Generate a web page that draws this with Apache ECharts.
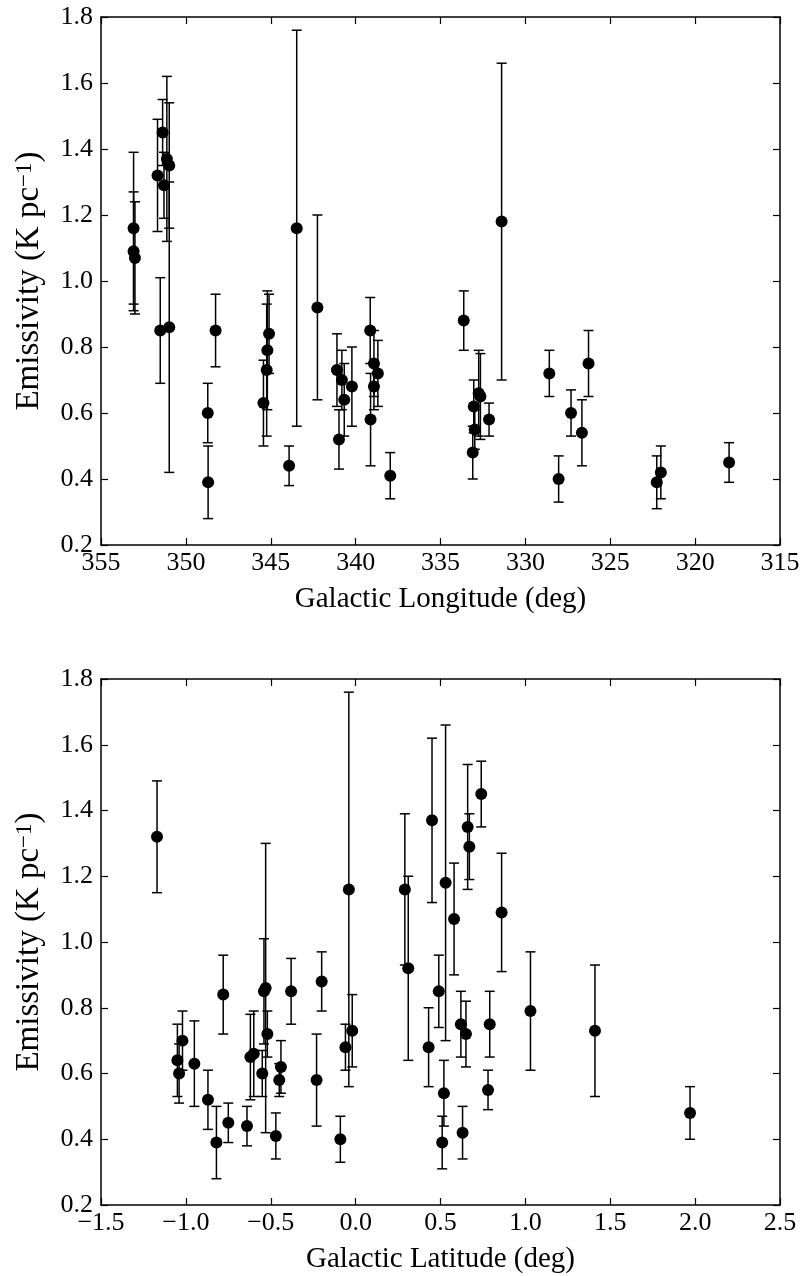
<!DOCTYPE html>
<html><head><meta charset="utf-8">
<script src="https://cdn.jsdelivr.net/npm/echarts@6/dist/echarts.min.js"></script>
<style>html,body{margin:0;padding:0;background:#fff}#c{width:805px;height:1276px}</style>
</head><body><div id="c"></div>
<script>
// Galactic longitude (deg) of each region
const longitude = [353.08, 353.08, 353.00, 351.67, 351.37, 351.29, 351.12, 350.98, 351.51, 350.98,
  348.25, 348.71, 348.69, 345.43, 345.24, 345.20, 345.10, 343.92, 343.47, 342.25,
  341.10, 340.98, 340.81, 340.67, 340.22, 339.14, 338.92, 338.69, 338.92, 339.12,
  337.96, 333.63, 333.04, 332.98, 333.10, 332.75, 332.65, 332.14, 331.40, 328.59,
  328.04, 327.31, 326.67, 326.28, 322.26, 322.02, 318.00];
// Galactic latitude (deg)
const latitude = [0.29, 0.86, 0.58, -1.17, 0.74, 0.67, 0.45, 0.66, -0.54, -0.53,
  0.49, -1.04, -0.82, -0.95, 1.41, 1.03, -0.78, -0.64, -0.04, 0.31,
  -0.02, -0.87, -1.02, -1.05, 0.43, -0.38, 0.62, 0.65, -0.06, -0.23,
  -0.47, -0.20, -0.44, 0.78, 1.97, -0.60, -0.62, -0.45, 0.53, -0.52,
  -0.09, -0.55, 0.52, 0.79, 0.51, 0.63, -0.75];
// Emissivity (K pc^-1)
const emissivity = [1.16, 1.09, 1.07, 1.32, 1.45, 1.29, 1.37, 1.35, 0.85, 0.86,
  0.85, 0.60, 0.39, 0.63, 0.73, 0.79, 0.84, 0.44, 1.16, 0.92,
  0.73, 0.52, 0.70, 0.64, 0.68, 0.85, 0.75, 0.72, 0.68, 0.58,
  0.41, 0.88, 0.62, 0.55, 0.48, 0.66, 0.65, 0.58, 1.18, 0.72,
  0.40, 0.60, 0.54, 0.75, 0.39, 0.42, 0.45];
// symmetric 1-sigma uncertainty
const emissivityErr = [0.23, 0.18, 0.17, 0.17, 0.10, 0.10, 0.25, 0.19, 0.16, 0.44,
  0.11, 0.09, 0.11, 0.13, 0.20, 0.18, 0.12, 0.06, 0.60, 0.28,
  0.11, 0.09, 0.09, 0.11, 0.12, 0.10, 0.10, 0.10, 0.07, 0.14,
  0.07, 0.09, 0.08, 0.06, 0.08, 0.13, 0.13, 0.05, 0.48, 0.07,
  0.07, 0.07, 0.10, 0.10, 0.08, 0.08, 0.06];

const FONT = '"Liberation Serif", "DejaVu Serif", serif';
const TICK_FS = 26, NAME_FS = 29, YNAME_FS = 33;
function fmt(v, d) {
  if (Math.abs(v) < 1e-9) v = 0;
  return v.toFixed(d).replace('-', '\u2212');
}
const axisLine = {show: true, onZero: false, lineStyle: {color: '#000', width: 1.5}};
const axisTick = {show: true, inside: true, length: 7, lineStyle: {color: '#000', width: 1.2}};

function xAx(grid, pos, min, max, interval, inverse, name, dec) {
  const main = pos === 'bottom';
  return {
    type: 'value', gridIndex: grid, position: pos, min: min, max: max, interval: interval, inverse: inverse,
    axisLine: axisLine, axisTick: axisTick, splitLine: {show: false},
    axisLabel: {show: main, color: '#000', fontFamily: FONT, fontSize: TICK_FS, margin: 5,
      formatter: v => fmt(v, dec)},
    name: main ? name : '', nameLocation: 'middle', nameGap: 40,
    nameTextStyle: {color: '#000', fontFamily: FONT, fontSize: NAME_FS}
  };
}
function yAx(grid, pos) {
  const main = pos === 'left';
  return {
    type: 'value', gridIndex: grid, position: pos, min: 0.2, max: 1.8, interval: 0.2,
    axisLine: axisLine, axisTick: axisTick, splitLine: {show: false},
    axisLabel: {show: main, color: '#000', fontFamily: FONT, fontSize: TICK_FS, margin: 8,
      formatter: v => fmt(v, 1)},
    name: main ? 'Emissivity (K pc{sup|\u22121})' : '', nameLocation: 'middle', nameGap: 55,
    nameTextStyle: {color: '#000', fontFamily: FONT, fontSize: YNAME_FS,
      rich: {sup: {fontFamily: FONT, fontSize: 23, verticalAlign: 'top', color: '#000'}}}
  };
}

function renderErr(params, api) {
  const x = api.value(0), lo = api.value(1), hi = api.value(2);
  const a = api.coord([x, lo]), b = api.coord([x, hi]);
  const w = 5;
  const style = {stroke: '#000', lineWidth: 1.5, fill: null};
  return {type: 'group', children: [
    {type: 'line', shape: {x1: a[0], y1: a[1], x2: b[0], y2: b[1]}, style: style},
    {type: 'line', shape: {x1: a[0] - w, y1: a[1], x2: a[0] + w, y2: a[1]}, style: style},
    {type: 'line', shape: {x1: b[0] - w, y1: b[1], x2: b[0] + w, y2: b[1]}, style: style}
  ]};
}

function errData(xs) {
  return xs.map((x, i) => [x, emissivity[i] - emissivityErr[i], emissivity[i] + emissivityErr[i]]);
}
function ptData(xs) {
  return xs.map((x, i) => [x, emissivity[i]]);
}

const chart = echarts.init(document.getElementById('c'), null, {renderer: 'canvas'});
chart.setOption({
  animation: false,
  backgroundColor: '#fff',
  grid: [
    {left: 101, top: 17, width: 679, height: 528},
    {left: 101, top: 679, width: 679, height: 526}
  ],
  xAxis: [
    xAx(0, 'bottom', 315, 355, 5, true, 'Galactic Longitude (deg)', 0),
    xAx(0, 'top', 315, 355, 5, true, '', 0),
    xAx(1, 'bottom', -1.5, 2.5, 0.5, false, 'Galactic Latitude (deg)', 1),
    xAx(1, 'top', -1.5, 2.5, 0.5, false, '', 1)
  ],
  yAxis: [yAx(0, 'left'), yAx(0, 'right'), yAx(1, 'left'), yAx(1, 'right')],
  series: [
    {type: 'custom', xAxisIndex: 0, yAxisIndex: 0, renderItem: renderErr,
      encode: {x: 0, y: [1, 2]}, data: errData(longitude), z: 2},
    {type: 'scatter', xAxisIndex: 0, yAxisIndex: 0, symbol: 'circle', symbolSize: 12,
      itemStyle: {color: '#000', opacity: 1}, data: ptData(longitude), z: 3},
    {type: 'custom', xAxisIndex: 2, yAxisIndex: 2, renderItem: renderErr,
      encode: {x: 0, y: [1, 2]}, data: errData(latitude), z: 2},
    {type: 'scatter', xAxisIndex: 2, yAxisIndex: 2, symbol: 'circle', symbolSize: 12,
      itemStyle: {color: '#000', opacity: 1}, data: ptData(latitude), z: 3}
  ]
});
</script>
</body></html>
